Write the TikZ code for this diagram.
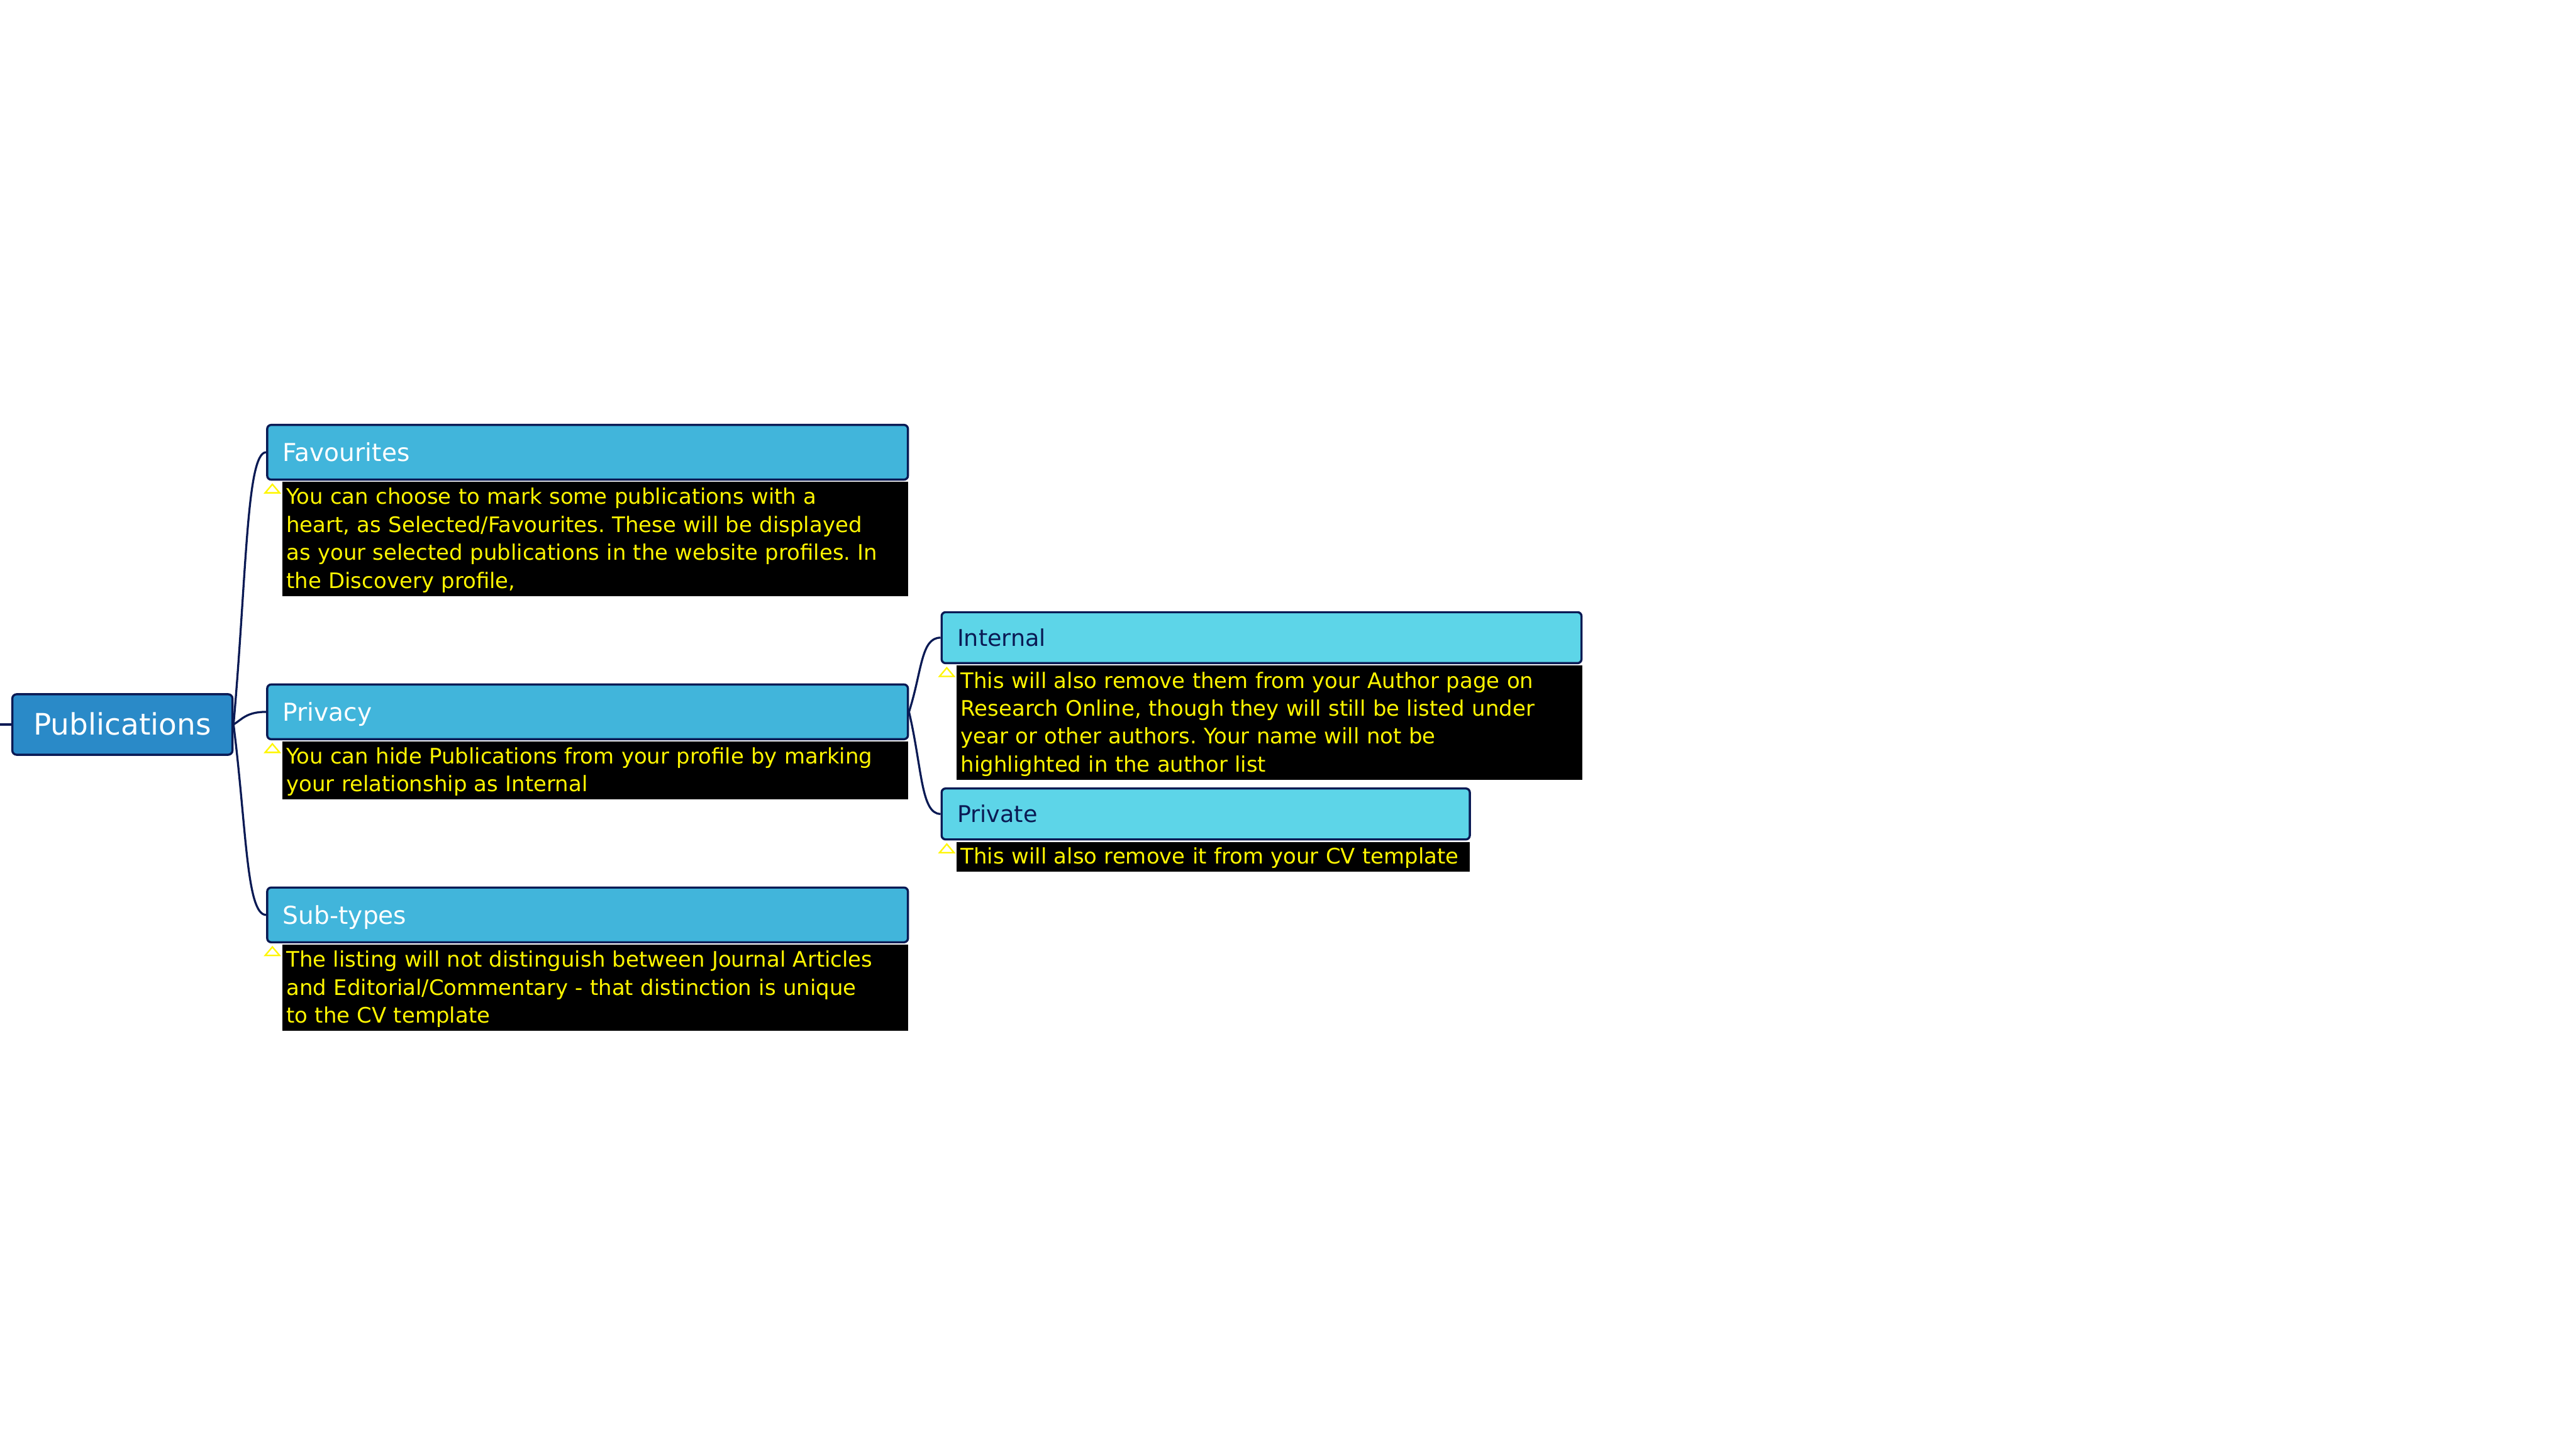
\documentclass[tikz,border=0pt]{standalone}
\usepackage{fontspec}
\setmainfont{DejaVu Sans}
\frenchspacing
\usetikzlibrary{positioning,calc}
\definecolor{navy}{RGB}{10,26,84}
\definecolor{rootblue}{RGB}{42,138,200}
\definecolor{topicblue}{RGB}{65,181,219}
\definecolor{subblue}{RGB}{93,213,232}
\definecolor{noteyellow}{RGB}{255,246,0}

\begin{document}
\begin{tikzpicture}[
      x=1pt,y=-1pt,
      root/.style={draw=navy,line width=1.3pt,fill=rootblue,
        rounded corners=2.6pt,minimum width=134pt,minimum height=36.8pt,
        inner sep=0pt,text=white,text height=15pt,text depth=2pt,
        font=\fontsize{18}{21}\selectfont},
      topic/.style={draw=navy,line width=1.3pt,fill=topicblue,
        rounded corners=2.4pt,anchor=north west,minimum height=33.3pt,
        inner xsep=9.5pt,inner ysep=0pt,align=left,text=white,
        text height=13pt,text depth=2pt,font=\fontsize{15}{18}\selectfont},
      subtopic/.style={topic,fill=subblue,text=navy,minimum height=31pt,
        text height=12.2pt,font=\fontsize{14}{17}\selectfont},
      note/.style={fill=black,text=noteyellow,align=left,
        inner xsep=2.6pt,inner ysep=0pt,text height=11.5pt,
        font=\fontsize{13}{17}\selectfont},
      link/.style={draw=navy,line width=1.25pt},
      hint/.style={draw=noteyellow,line width=0.9pt}
    ]
    \useasboundingbox (0,0) rectangle (1568,882);
    \coordinate (offpage) at (0,441);
    \node[root] (pub) at (74.5,441) {Publications};
    % first level
    \node[topic,text width=371pt] (fav) at (162,258) {Favourites};
    \node[topic,text width=371pt] (priv) at (162,416) {Privacy};
    \node[topic,text width=371pt] (sub) at (162,539.6) {Sub-types};
    % second level under Privacy
    \node[subtopic,text width=370.5pt] (int) at (572.5,372) {Internal};
    \node[subtopic,text width=302.5pt] (pri) at (572.5,479.3) {Private};
    % notes
    \node[note,text width=375.8pt,minimum height=69.4pt,
      below right=0.6pt and 9.5pt of fav.south west] (favn)
      {You can choose to mark some publications with a\\
       heart, as Selected/Favourites. These will be displayed\\
       as your selected publications in the website profiles. In\\
       the Discovery profile,};
    \node[note,text width=375.8pt,minimum height=35pt,
      below right=0.6pt and 9.5pt of priv.south west] (privn)
      {You can hide Publications from your profile by marking\\
       your relationship as Internal};
    \node[note,text width=375.8pt,minimum height=52.5pt,
      below right=0.6pt and 9.5pt of sub.south west] (subn)
      {The listing will not distinguish between Journal Articles\\
       and Editorial/Commentary - that distinction is unique\\
       to the CV template};
    \node[note,text width=375.6pt,minimum height=69.7pt,
      below right=0.6pt and 9.5pt of int.south west] (intn)
      {This will also remove them from your Author page on\\
       Research Online, though they will still be listed under\\
       year or other authors. Your name will not be\\
       highlighted in the author list};
    \node[note,text width=307.4pt,minimum height=18pt,
      below right=0.6pt and 9.5pt of pri.south west] (prin)
      {This will also remove it from your CV template};
    \foreach \n in {favn,privn,subn,intn,prin}
      \draw[hint] ($(\n.north west)+(-5.7,1.6)$) -- ++(4.4,5.2)
        -- ++(-8.8,0) -- cycle;
    % connectors
    \draw[link] (offpage) -- (pub.west);
    \draw[link] (pub.east) .. controls +(8,-91) and +(-12,0) .. (fav.west);
    \draw[link] (pub.east) .. controls +(5,-3) and +(-12,0) .. (priv.west);
    \draw[link] (pub.east) .. controls +(8,64) and +(-12,0) .. (sub.west);
    \draw[link] (priv.east) .. controls +(8,-25) and +(-12,0) .. (int.west);
    \draw[link] (priv.east) .. controls +(8,34) and +(-12,0) .. (pri.west);
  \end{tikzpicture}
\end{document}
